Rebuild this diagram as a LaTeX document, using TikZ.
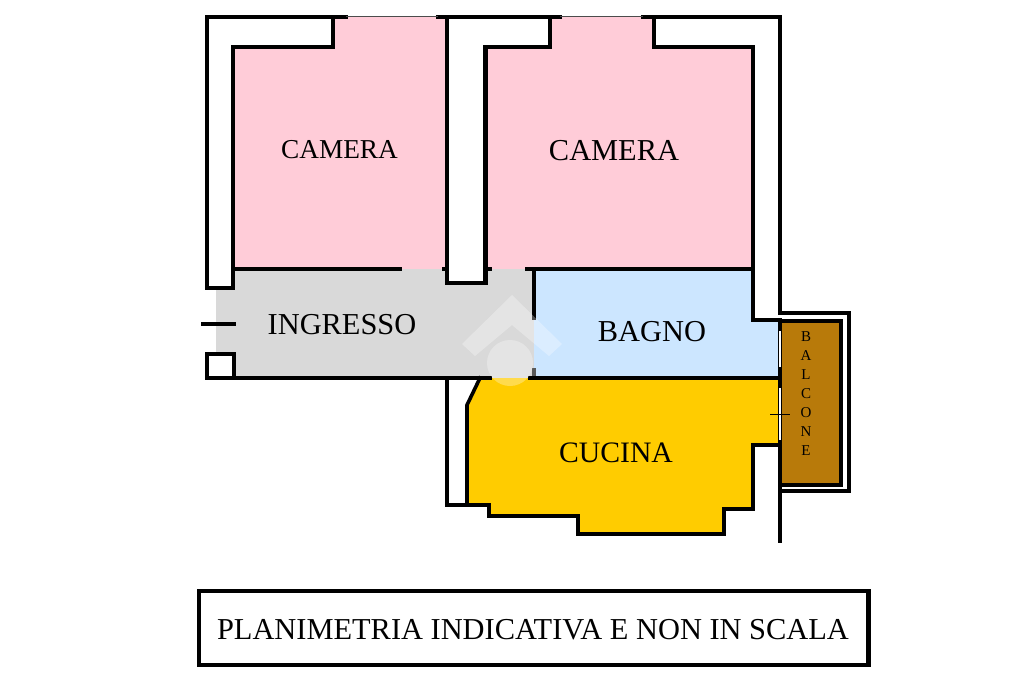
\documentclass[tikz,border=0pt]{standalone}
\usepackage{fontspec}
\setmainfont{Liberation Serif}
\definecolor{pinkroom}{HTML}{FFCCD8}
\definecolor{grayroom}{HTML}{D9D9D9}
\definecolor{blueroom}{HTML}{CCE6FF}
\definecolor{yellowroom}{HTML}{FFCC00}
\definecolor{brownroom}{HTML}{B87A0A}
\tikzset{
	wall/.style={draw=black,line width=4.4pt,line cap=rect,line join=miter},
	thinwall/.style={draw=black,line width=3.6pt,line cap=rect,line join=miter},
	glass/.style={draw=white,line width=1.5pt},
	roomlabel/.style={text=black,inner sep=0pt,font=\fontsize{30.4}{32}\selectfont}
}
\begin{document}
\begin{tikzpicture}[x=1pt,y=-1pt]
	\useasboundingbox (0,0) rectangle (1024,682);
	\fill [white] (0,0) rectangle (1024,682);
	\fill [pinkroom] (233,47) -- (333,47) -- (333,17) -- (447,17) -- (447,269) -- (233,269) -- cycle;
	\fill [pinkroom] (485,47) -- (550,47) -- (550,17) -- (654,17) -- (654,47) -- (753,47) -- (753,269) -- (485,269) -- cycle;
	\fill [grayroom] (216,290) -- (233,290) -- (233,269) -- (534,269) -- (534,378) -- (234,378) -- (234,353) -- (216,353) -- cycle;
	\fill [white] (447,260) rectangle (485,283);
	\fill [blueroom] (534,269) -- (753,269) -- (753,320) -- (780,320) -- (780,378) -- (534,378) -- cycle;
	\fill [yellowroom] (480,378) -- (780,378) -- (780,445) -- (753,445) -- (753,509) -- (724,509) -- (724,534) -- (578,534) -- (578,516) -- (489,516) -- (489,505) -- (467,505) -- (467,405) -- cycle;
	\fill [brownroom] (780,321) rectangle (841,485);
	\draw [wall] (346,17) -- (207,17) -- (207,288) -- (233,288) -- (233,47) -- (333,47) -- (333,17);
	\draw [wall] (438,17) -- (560,17);
	\draw [wall] (643,17) -- (780,17) -- (780,313) -- (849,313) -- (849,491) -- (780,491);
	\draw [wall] (447,17) -- (447,283) -- (485.5,283) -- (485.5,47) -- (550,47) -- (550,17);
	\draw [wall] (654,17) -- (654,47) -- (753,47) -- (753,320) -- (780,320) -- (780,541);
	\draw [wall] (780,321) -- (841,321) -- (841,485) -- (780,485);
	\draw [thinwall] (233,269) -- (400,269);
	\draw [thinwall] (444,269) -- (447,269) (485,269) -- (490,269);
	\draw [thinwall] (527,269) -- (753,269);
	\draw [thinwall] (534,269) -- (534,318);
	\draw [thinwall,black!65] (534,370) -- (534,376);
	\draw [wall] (207,378) -- (490,378);
	\draw [wall] (530,378) -- (780,378);
	\draw [wall] (207,378) -- (207,354) -- (234,354) -- (234,378);
	\draw [wall] (203,324) -- (234,324);
	\draw [wall] (447,378) -- (447,505) -- (489,505) -- (489,516) -- (578,516) -- (578,534) -- (724,534) -- (724,509) -- (753,509) -- (753,445) -- (780,445);
	\draw [thinwall] (467,505) -- (467,405) -- (480,378);
	\draw [draw=black!70,line width=0.8pt] (346,16.5) -- (438,16.5) (560,16.5) -- (643,16.5);
	\draw [glass] (780,331) -- (780,367) (780,388) -- (780,440);
	\draw [black,line width=0.7pt] (770,414) -- (790,414);
	\fill [white,opacity=0.3] (512,295) -- (562,344) -- (549,356) -- (512,325) -- (475,356) -- (462,344) -- cycle;
	\fill [white,opacity=0.3] (510,363) circle(23);
	\node [roomlabel,font=\fontsize{27.3}{30}\selectfont] (camerasx) at (339.5,150) {CAMERA};
	\node [roomlabel] (cameradx) at (614,151) {CAMERA};
	\node [roomlabel] (ingresso) at (342,325) {INGRESSO};
	\node [roomlabel] (bagno) at (652,332) {BAGNO};
	\node [roomlabel,font=\fontsize{29.7}{32}\selectfont] (cucina) at (616,453) {CUCINA};
	\node [roomlabel,align=center,font=\fontsize{15}{18.9}\selectfont] (balcone) at (806,393.5) {B\\A\\L\\C\\O\\N\\E};
	\draw [wall] (199,591) rectangle (868.5,665);
	\node [roomlabel] (scala) at (533,630) {PLANIMETRIA INDICATIVA E NON IN SCALA};
\end{tikzpicture}
\end{document}
